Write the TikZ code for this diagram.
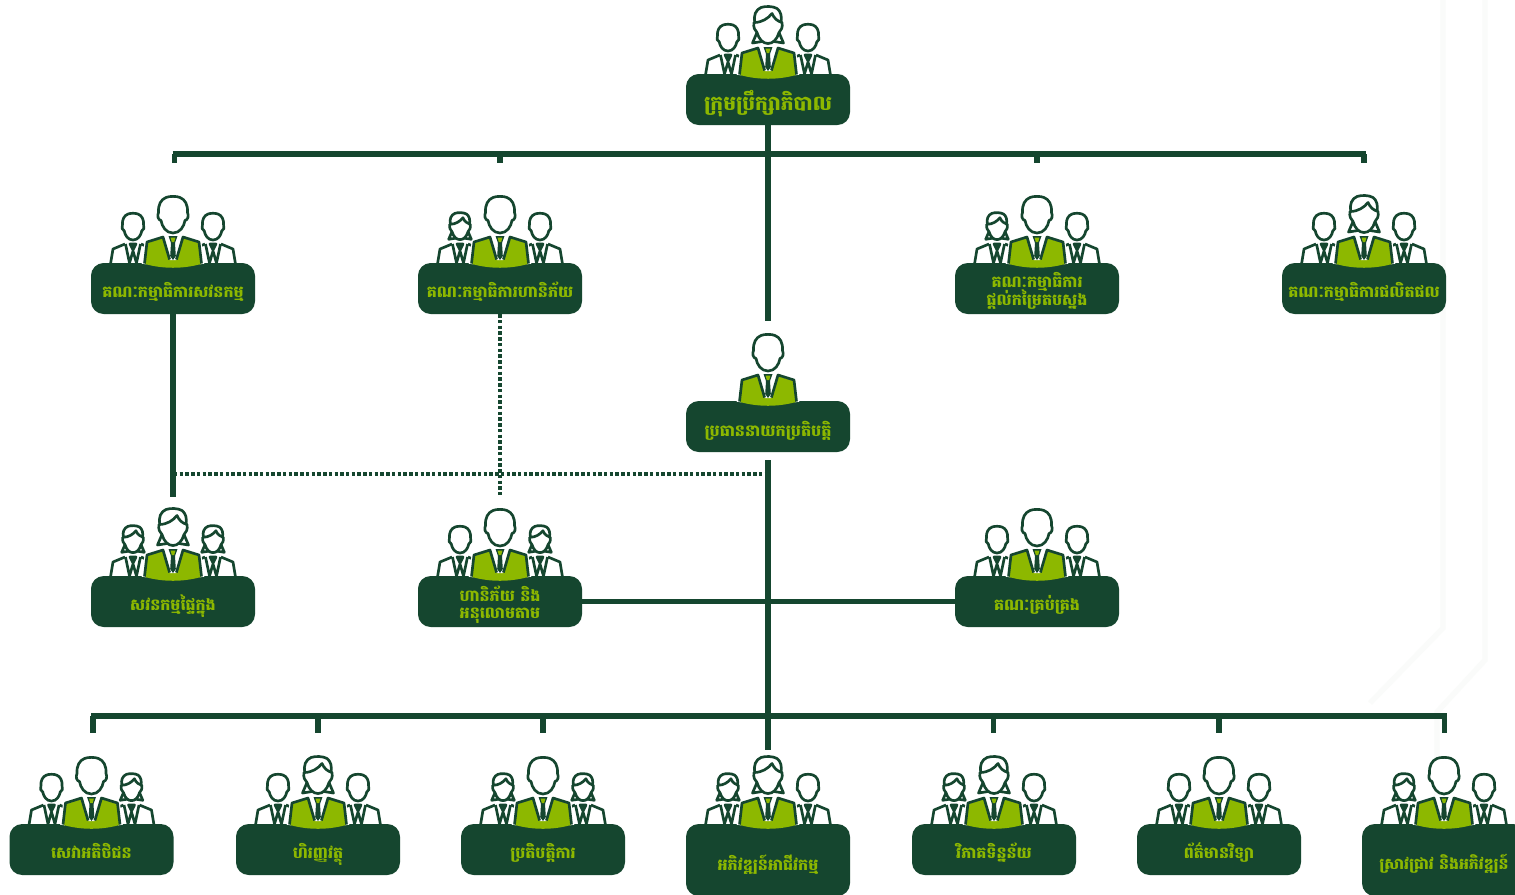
\documentclass[tikz,border=0pt]{standalone}
\usepackage{fontspec}
\newfontfamily\khfont[Script=Khmer]{Battambang}
\definecolor{dk}{HTML}{15462F}
\definecolor{gr}{HTML}{8DB800}
\definecolor{faint}{HTML}{FAFBFA}
\tikzset{
  conn/.style={draw=dk,line width=3.9pt},
  connthin/.style={draw=dk,line width=3.2pt},
  dotconn/.style={draw=dk,line width=3.4pt,dash pattern=on 2.6pt off 1.7pt},
  pline/.style={draw=dk,line width=2pt,line join=round},
  boxn/.style={fill=dk,rounded corners=9.5pt,minimum width=123pt,inner sep=0pt},
  labn/.style={inner sep=0pt,anchor=base,text=gr,font=\khfont\bfseries},
  hM/.pic={\path[pline,fill=white] (0,18.5) .. controls (-7,18.5) and (-11,12) .. (-12,6)
     .. controls (-15,5.5) and (-16,1) .. (-14.5,-2) .. controls (-15,-10) and (-12,-15) .. (-7,-17)
     .. controls (-4,-18.5) and (4,-18.5) .. (7,-17) .. controls (12,-15) and (15,-10) .. (14.5,-2)
     .. controls (16,1) and (15,5.5) .. (12,6) .. controls (11,12) and (7,18.5) .. (0,18.5) -- cycle;},
  hW/.pic={\path[pline,fill=white] (-13,-3) .. controls (-15,-10) and (-12,-16) .. (-7,-18)
     .. controls (-3,-19.5) and (5,-19.5) .. (9,-17) .. controls (13,-14) and (14,-9) .. (13,-3) -- cycle;
     \path[pline,fill=white] (-11,7) -- (-15.5,17.5) -- (-6,16) -- (6,16) -- (15.5,17.5) -- (11,7) -- cycle;
     \path[pline,fill=white] (-14,-3) .. controls (-6,-3) and (0,-7) .. (4,-12) .. controls (6,-7) and (10,-4) .. (14,-3)
     .. controls (15,2) and (13,5) .. (11,7) .. controls (9,14) and (5,18) .. (0,18)
     .. controls (-5,18) and (-9,14) .. (-11,7) .. controls (-13,5) and (-15,2) .. (-14,-3) -- cycle;},
  bodyS/.pic={\path[fill=white] (-23,1) -- (-20,-14) -- (-8,-19) -- (8,-19) -- (20,-14) -- (23,1) -- cycle;
     \path[pline] (-22.5,1) -- (-20,-14) -- (-8,-19);
     \path[pline] (22.5,1) -- (20,-14) -- (8,-19);
     \path[pline] (-7.5,-19) -- (-3.5,0) -- (0,-12) -- (3.5,0) -- (7.5,-19);
     \path[pline,fill=dk] (-3,-19) -- (3,-19) -- (0,-13) -- cycle;},
  bodyB/.pic={\path[draw=white,line width=3.6pt,line join=round] (-29,1) -- (-26,-21) -- (-10,-26) -- (10,-26) -- (26,-21) -- (29,1);
     \path[fill=gr] (-28,1) -- (-25.5,-20) -- (-10,-25) -- (10,-25) -- (25.5,-20) -- (28,1) .. controls (10,6) and (-10,6) .. (-28,1) -- cycle;
     \path[fill=white] (-9.5,-26) -- (-3,-3) -- (3,-3) -- (9.5,-26) -- cycle;
     \path[pline] (-28.5,0.5) -- (-26,-21) -- (-10,-26) -- (-3.4,-3.5);
     \path[pline] (28.5,0.5) -- (26,-21) -- (10,-26) -- (3.4,-3.5);
     \path[fill=dk] (-4.5,-27) -- (4.5,-27) -- (2,-20) -- (2.8,-7) -- (0,-3) -- (-2.8,-7) -- (-2,-20) -- cycle;
     \path[fill=gr] (-2.4,-25.5) -- (2.4,-25.5) -- (1.2,-21) -- (-1.2,-21) -- cycle;},
}
% name, cx, top, left, centre, right, height
\newcommand{\grp}[7]{%
  \pic at (#2-40,#3) {bodyS};
  \pic at (#2+40,#3) {bodyS};
  \pic[scale=.73] at (#2-40,#3-36.5) {h#4};
  \pic[scale=.73] at (#2+40,#3-36.5) {h#6};
  \node[boxn,minimum height=#7*.75pt] (#1) at (#2,#3+#7/2) {};
  \pic at (#2,#3) {bodyB};
  \pic at (#2,#3-48.5) {h#5};
}
% name, cx, baseline y, size, text
\newcommand{\lab}[5]{\node[labn] (#1) at (#2,#3) {\fontsize{#4}{#4}\selectfont #5};}
% two centred lines, baseline of the box = baseline of the last line
\newcommand{\twol}[3]{\vbox{\baselineskip=#1pt\lineskiplimit=-100pt\hbox to 0pt{\hss #2\hss}\hbox to 0pt{\hss #3\hss}}}
\begin{document}
\begin{tikzpicture}[x=.75pt,y=-.75pt]
\useasboundingbox (0,0) rectangle (1515,894);
\clip (0,0) rectangle (1515,894);
\fill[white] (0,0) rectangle (1515,894);
% faint background tracery
\draw[faint,line width=4pt] (1443,0) -- (1443,628) -- (1370,703);
\draw[faint,line width=4pt] (1485,0) -- (1485,660) -- (1437,712) -- (1437,800);
% anchor coordinates of connectors
\coordinate (t1) at (172.5,154); \coordinate (t1d) at (174.5,163);
\coordinate (t2) at (500,154); \coordinate (t2d) at (500,163);
\coordinate (t3) at (1037,154); \coordinate (t3d) at (1037,163);
\coordinate (t4) at (1365.5,154); \coordinate (t5d) at (1364,163); \coordinate (t5) at (1364,154);
\coordinate (ceoUp) at (768,321);
\coordinate (ceoDown) at (768,460);
\coordinate (botEnd) at (768,750);
\coordinate (leftEnd) at (173,497);
\coordinate (midEnd) at (500,497);
\coordinate (dotL) at (174,474);
\coordinate (dotR) at (768,474);
\coordinate (b0) at (91,716); \coordinate (b6) at (1446.5,716);
\foreach \n/\x in {a/93,b/318,c/543,e/993.5,f/1219,g/1444.5}{
  \coordinate (drop\n up) at (\x,716); \coordinate (drop\n low) at (\x,733);
}
% groups
\grp{board}{768}{74}{M}{W}{M}{51}
\lab{boardT}{768}{110.7}{15.1}{ក្រុមប្រឹក្សាភិបាល}
\grp{audc}{173}{263}{M}{M}{M}{51}
\lab{audcT}{173}{297}{11.9}{គណៈកម្មាធិការសវនកម្ម}
\grp{riskc}{500}{263}{W}{M}{M}{51}
\lab{riskcT}{500}{297}{11.9}{គណៈកម្មាធិការហានិភ័យ}
\grp{remc}{1037}{263}{W}{M}{M}{51}
\lab{remcT}{1037}{305}{11.9}{\twol{13}{គណៈកម្មាធិការ}{ផ្តល់កម្រៃតបស្នង}}
\grp{prodc}{1364}{263}{M}{W}{M}{51}
\lab{prodcT}{1364}{297}{11.9}{គណៈកម្មាធិការផលិតផល}
\node[boxn,minimum height=38.25pt] (ceo) at (768,426.5) {};
\pic at (768,401) {bodyB};
\pic at (768,352.5) {hM};
\lab{ceoT}{768}{436.7}{12}{ប្រធាននាយកប្រតិបត្តិ}
\grp{inta}{173}{576}{W}{W}{W}{51}
\lab{intaT}{173}{610.7}{11.9}{សវនកម្មផ្ទៃក្នុង}
\grp{riskm}{500}{576}{M}{M}{W}{51}
\lab{riskmT}{500}{618}{11.9}{\twol{12.5}{ហានិភ័យ និង}{អនុលោមតាម}}
\grp{exco}{1037}{576}{M}{M}{M}{51}
\lab{excoT}{1037}{610.7}{11.9}{គណៈគ្រប់គ្រង}
\grp{cs}{91.5}{824}{M}{M}{W}{51}
\lab{csT}{91.5}{858}{11.9}{សេវាអតិថិជន}
\grp{fin}{318}{824}{M}{W}{M}{51}
\lab{finT}{318}{858}{11.9}{ហិរញ្ញវត្ថុ}
\grp{ops}{543}{824}{W}{M}{W}{51}
\lab{opsT}{543}{858}{11.9}{ប្រតិបត្តិការ}
\grp{busd}{768}{824}{W}{W}{M}{72}
\lab{busdT}{768}{870}{11.9}{អភិវឌ្ឍន៍អាជីវកម្ម}
\grp{da}{994}{824}{W}{W}{M}{51}
\lab{daT}{994}{858}{11.9}{វិភាគទិន្នន័យ}
\grp{it}{1219}{824}{M}{M}{M}{51}
\lab{itT}{1219}{858}{11.9}{ព័ត៌មានវិទ្យា}
\grp{rd}{1444}{824}{W}{M}{M}{72}
\lab{rdT}{1444}{869}{11.7}{ស្រាវជ្រាវ និងអភិវឌ្ឍន៍}
% connectors
\draw[conn] (board.south) -- (ceoUp);
\draw[conn] (t1) -- (t4);
\draw[conn] (t1d |- t1) -- (t1d);
\draw[conn] (t2) -- (t2d);
\draw[conn] (t3) -- (t3d);
\draw[conn] (t5) -- (t5d);
\draw[conn] (audc.south) -- (leftEnd);
\draw[dotconn] (riskc.south) -- (midEnd);
\draw[dotconn] (dotL) -- (dotR);
\draw[conn] (ceoDown) -- (botEnd);
\draw[connthin] (riskm.east) -- (exco.west);
\draw[conn] (b0) -- (b6);
\foreach \n in {a,b,c,e,f,g}{\draw[conn] (drop\n up) -- (drop\n low);}
\end{tikzpicture}
\end{document}
